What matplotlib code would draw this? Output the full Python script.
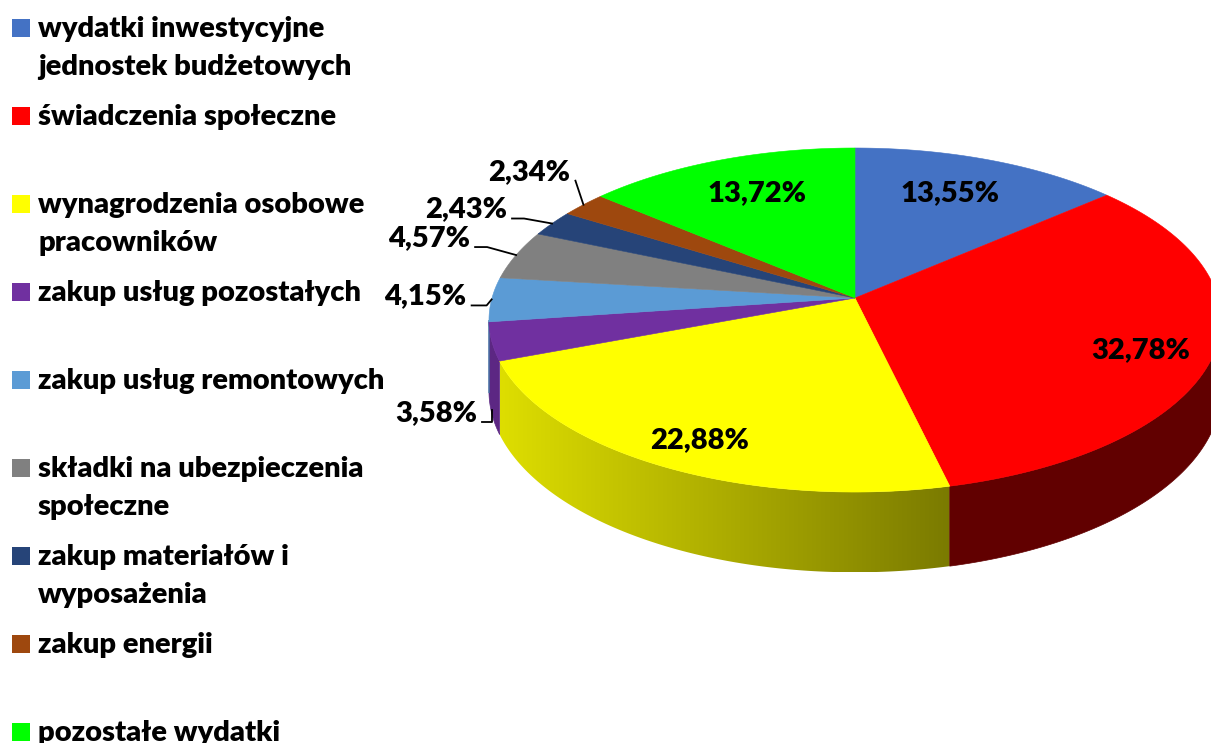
import numpy as np
import matplotlib
matplotlib.use("Agg")
import matplotlib.pyplot as plt
from matplotlib.patches import Polygon, Rectangle
from matplotlib.colors import to_rgb

# data
categories = [
    "wydatki inwestycyjne\njednostek budżetowych",
    "świadczenia społeczne",
    "wynagrodzenia osobowe\npracowników",
    "zakup usług pozostałych",
    "zakup usług remontowych",
    "składki na ubezpieczenia\nspołeczne",
    "zakup materiałów i\nwyposażenia",
    "zakup energii",
    "pozostałe wydatki",
]
shares = [13.55, 32.78, 22.88, 3.58, 4.15, 4.57, 2.43, 2.34, 13.72]
colors = ["#4472C4", "#FF0000", "#FFFF00", "#7030A0", "#5B9BD5",
          "#808080", "#264478", "#9E480E", "#00FF00"]

# side wall shading (right end, left end)
side_shade = [(0.6, 0.6), (0.38, 0.38), (0.48, 0.87), (0.82, 0.82), (0.8, 0.8),
              (0.8, 0.8), (0.8, 0.8), (0.8, 0.8), (0.8, 0.8)]
# label placement: inside -> (radius, dy); outside -> (dx, dy) of right edge from edge point
label_inside = [(0.684, -7), (0.80, 9), (0.826, 6), None, None, None, None, None, (0.698, -6)]
label_outside = [None, None, None, (-15, 3), (-25, -3), (-46, -17), (-45, -14), (-13, -33), None]
leader_len = [0, 0, 0, 10, 15, 12, 12, 0, 0]

plt.rcParams['font.family'] = ['Lato', 'DejaVu Sans']
WEIGHT = 'heavy'

fig = plt.figure(figsize=(12.11, 7.43), dpi=100)
ax = fig.add_axes([0, 0, 1, 1])
ax.set_xlim(0, 1211)
ax.set_ylim(743, 0)
ax.axis('off')

# fit font size so "wydatki inwestycyjne" is ~287 px wide like the original
probe = ax.text(0, 0, "wydatki inwestycyjne", fontsize=20, fontweight=WEIGHT)
fig.canvas.draw()
w = probe.get_window_extent().width
probe.remove()
FS = 20 * 287 / w

CX, CY = 855, 298
A, B, K = 363, 169.2, 0.128
DEPTH = 70
VIS = np.degrees(np.arccos(-K))  # silhouette angle of the side wall


def top(theta, r=1.0):
    t = np.radians(theta)
    d = 1 + K * r * np.cos(t)
    return CX + A * r * np.sin(t) / d, CY - B * r * np.cos(t) / d


def depth(theta):
    return DEPTH / (1 + K * np.cos(np.radians(theta)))


bounds = np.concatenate([[0], np.cumsum(shares)]) / np.sum(shares) * 360

# side walls (front part only)
for i in range(len(shares)):
    a1, a2 = bounds[i], bounds[i + 1]
    lo, hi = max(a1, VIS), min(a2, 360 - VIS)
    if lo >= hi:
        continue
    ts = np.linspace(lo, hi, 200)
    xs, ys = top(ts)
    ds = depth(ts)
    pts = list(zip(xs, ys)) + list(zip(xs[::-1], (ys + ds)[::-1]))
    base = np.array(to_rgb(colors[i]))
    s1, s2 = side_shade[i]
    if s1 == s2:
        c = base * s1
        ax.add_patch(Polygon(pts, closed=True, facecolor=c, edgecolor=c, lw=0.5))
    else:
        poly = Polygon(pts, closed=True, facecolor='none', edgecolor='none')
        ax.add_patch(poly)
        x0, x1 = xs.min(), xs.max()
        y0, y1 = ys.min(), (ys + ds).max()
        f = np.linspace(s2, s1, 256)
        img = np.clip(base[None, None, :] * f[None, :, None], 0, 1)
        im = ax.imshow(img, extent=(x0, x1, y1, y0), aspect='auto', interpolation='bilinear')
        im.set_clip_path(poly)
ax.set_xlim(0, 1211)
ax.set_ylim(743, 0)

# top face
for i in range(len(shares)):
    ts = np.linspace(bounds[i], bounds[i + 1], 200)
    xs, ys = top(ts)
    pts = [(CX, CY)] + list(zip(xs, ys))
    ax.add_patch(Polygon(pts, closed=True, facecolor=colors[i], edgecolor=colors[i], lw=0.4))

# data labels
for i, v in enumerate(shares):
    txt = f"{v:.2f}".replace('.', ',') + '%'
    mid = (bounds[i] + bounds[i + 1]) / 2
    if label_inside[i] is not None:
        r, dy = label_inside[i]
        x, y = top(mid, r)
        ax.text(x, y + dy, txt, ha='center', va='center', fontsize=FS, fontweight=WEIGHT)
    else:
        ex, ey = top(mid)
        if i == 3:
            ey += 0.95 * depth(mid)
        dx, dy = label_outside[i]
        tx, ty = ex + dx, ey + dy
        ax.text(tx, ty, txt, ha='right', va='center', fontsize=FS, fontweight=WEIGHT)
        sx, sy = tx + 5, ty + 9
        ax.plot([sx, sx + leader_len[i], ex], [sy, sy, ey], color='black', lw=1.3,
                solid_joinstyle='round')

# legend
LX, LY0, LSTEP, LINE = 12, 28, 88, 38
for i, lab in enumerate(categories):
    yc = LY0 + i * LSTEP
    ax.add_patch(Rectangle((LX, yc - 9), 18, 18, facecolor=colors[i], edgecolor='none'))
    for k, line in enumerate(lab.split('\n')):
        ax.text(38, yc + 9 + k * LINE, line, ha='left', va='baseline',
                fontsize=FS, fontweight=WEIGHT)

fig.savefig("out.png", dpi=100)
